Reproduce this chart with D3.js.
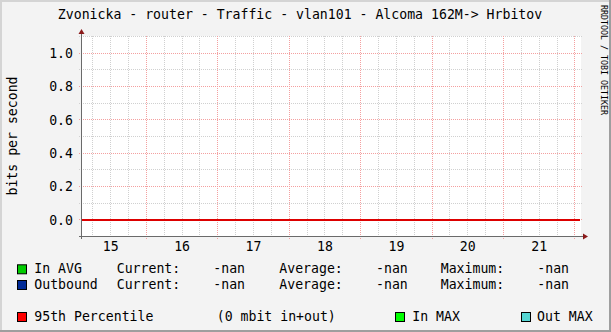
<!DOCTYPE html>
<html><head><meta charset="utf-8">
<script src="https://cdn.jsdelivr.net/npm/d3@7"></script>
<style>
html,body{margin:0;padding:0;background:#F3F3F3;}
svg{display:block;}
text{font-family:"DejaVu Sans Mono",monospace;fill:#000;}
</style></head><body>
<script>
// ---- data ----
const title = "Zvonicka - router - Traffic - vlan101 - Alcoma 162M-> Hrbitov";
const yLabel = "bits per second";
const yTicks = [0.0, 0.2, 0.4, 0.6, 0.8, 1.0];
const yMinor = [-0.1, 0.1, 0.3, 0.5, 0.7, 0.9, 1.1];
const dayLabels = ["15", "16", "17", "18", "19", "20", "21"];
const hoursDomain = [-21.8, 146.2];          // hours relative to midnight starting day 15
const dayStarts = [0, 24, 48, 72, 96, 120, 144];
const inAvg = [];      // no data (nan)
const outbound = [];   // no data (nan)
const percentile95 = 0;
const legendRows = [
  {name: "In AVG",   color: "#00CC00", current: "-nan", average: "-nan", maximum: "-nan"},
  {name: "Outbound", color: "#002A97", current: "-nan", average: "-nan", maximum: "-nan"}
];
const legendExtra = [
  {name: "95th Percentile", color: "#FF0000"},
  {name: "In MAX", color: "#00FF00"},
  {name: "Out MAX", color: "#55D6D3"}
];
const percentileText = "(0 mbit in+out)";

// ---- layout ----
const W = 611, H = 332;
const L = 81, R = 581, T = 36, B = 236;
const svg = d3.select("body").append("svg").attr("width", W).attr("height", H);
svg.append("rect").attr("width", W).attr("height", H).attr("fill", "#F3F3F3");
// 3D border
svg.append("rect").attr("x",0).attr("y",0).attr("width",W).attr("height",2).attr("fill","#D4D4D4");
svg.append("rect").attr("x",0).attr("y",0).attr("width",2).attr("height",H).attr("fill","#D4D4D4");
svg.append("rect").attr("x",W-2).attr("y",0).attr("width",2).attr("height",H).attr("fill","#9E9E9E");
svg.append("rect").attr("x",0).attr("y",H-2).attr("width",W).attr("height",2).attr("fill","#9E9E9E");

const x = d3.scaleLinear().domain(hoursDomain).range([L, R]);
const y = d3.scaleLinear().domain([-0.1, 1.1]).range([B, T]);

svg.append("rect").attr("x", L).attr("y", T).attr("width", R - L).attr("height", B - T).attr("fill", "#FFFFFF");

// minor vertical grid (every 6h)
const minorX = d3.range(-18, 147, 6).filter(h => h % 24 !== 0);
const g = svg.append("g").attr("shape-rendering", "crispEdges");
g.selectAll(".vmin").data(minorX).enter().append("line")
  .attr("x1", d => Math.round(x(d)) + 0.5).attr("x2", d => Math.round(x(d)) + 0.5)
  .attr("y1", T).attr("y2", B + 2)
  .attr("stroke", "#D0D0D0").attr("stroke-dasharray", "1,1");
// minor horizontal grid
g.selectAll(".hmin").data(yMinor).enter().append("line")
  .attr("x1", L - 2).attr("x2", R + 2)
  .attr("y1", d => Math.round(y(d)) + 0.5).attr("y2", d => Math.round(y(d)) + 0.5)
  .attr("stroke", "#D0D0D0").attr("stroke-dasharray", "1,1");
// major vertical grid
g.selectAll(".vmaj").data(dayStarts).enter().append("line")
  .attr("x1", d => Math.round(x(d)) + 0.5).attr("x2", d => Math.round(x(d)) + 0.5)
  .attr("y1", T).attr("y2", B + 3)
  .attr("stroke", "#F4A0A0").attr("stroke-dasharray", "1,1");
// major horizontal grid
g.selectAll(".hmaj").data(yTicks).enter().append("line")
  .attr("x1", L - 2).attr("x2", R + 2)
  .attr("y1", d => Math.round(y(d)) + 0.5).attr("y2", d => Math.round(y(d)) + 0.5)
  .attr("stroke", "#F4A0A0").attr("stroke-dasharray", "1,1");

// data lines (empty) and 95th percentile line
const line = d3.line().x(d => x(d[0])).y(d => y(d[1]));
svg.append("path").datum(inAvg).attr("d", line).attr("fill", "none").attr("stroke", "#00CC00");
svg.append("path").datum(outbound).attr("d", line).attr("fill", "none").attr("stroke", "#002A97");
svg.append("line").attr("x1", L + 1).attr("x2", R - 1)
  .attr("y1", Math.round(y(percentile95)) + 0.5).attr("y2", Math.round(y(percentile95)) + 0.5)
  .attr("stroke", "#DD0000").attr("stroke-width", 2).attr("shape-rendering", "crispEdges");

// axes lines
const ag = svg.append("g").attr("shape-rendering", "crispEdges");
ag.append("line").attr("x1", L - 2).attr("x2", R + 3).attr("y1", B + 0.5).attr("y2", B + 0.5).attr("stroke", "#6A6A6A");
ag.append("line").attr("x1", L + 0.5).attr("x2", L + 0.5).attr("y1", T - 3).attr("y2", B + 3).attr("stroke", "#6A6A6A");
svg.append("path").attr("d", `M${L - 2.5},${T - 2} L${L + 3.5},${T - 2} L${L + 0.5},${T - 7} Z`).attr("fill", "#8B1A1A");
svg.append("path").attr("d", `M${R + 2},${B - 2.5} L${R + 2},${B + 3.5} L${R + 7},${B + 0.5} Z`).attr("fill", "#8B1A1A");

// axis labels via d3 axes
const yAxis = d3.axisLeft(y).tickValues(yTicks).tickFormat(d3.format(".1f")).tickSize(0).tickPadding(8);
const ya = svg.append("g").attr("transform", `translate(${L},0)`).call(yAxis);
ya.select(".domain").remove();
ya.selectAll("text").attr("font-family", "DejaVu Sans Mono").attr("font-size", 13.2).attr("fill", "#000").attr("dy", "0.36em");

const xAxis = d3.axisBottom(x).tickValues(dayStarts.map(d => d - 12)).tickFormat((d, i) => dayLabels[i]).tickSize(0).tickPadding(6);
const xa = svg.append("g").attr("transform", `translate(0,${B})`).call(xAxis);
xa.select(".domain").remove();
xa.selectAll("text").attr("font-family", "DejaVu Sans Mono").attr("font-size", 13.2).attr("fill", "#000").attr("dy", "0.71em");

// title
svg.append("text").attr("x", 300).attr("y", 19).attr("text-anchor", "middle").attr("font-size", 13.2).text(title);
// y label
svg.append("text").attr("transform", "translate(16.5,136) rotate(-90)").attr("text-anchor", "middle").attr("font-size", 13.2).text(yLabel);
// watermark
svg.append("text").attr("transform", "translate(600.5,5) rotate(90)").attr("font-size", 8.5).attr("fill", "#B4B4B4")
  .attr("textLength", 110).attr("lengthAdjust", "spacingAndGlyphs").text("RRDTOOL / TOBI OETIKER");

// legend
const fs = 13.2;
const rowY = [273.3, 289];
legendRows.forEach((r, i) => {
  const by = rowY[i];
  svg.append("rect").attr("x", 17.5).attr("y", by - 8.5).attr("width", 9).attr("height", 9).attr("fill", r.color).attr("stroke", "#000").attr("stroke-width", 1);
  const cols = [[34.3, r.name], [116.7, "Current:"], [213.3, r.current], [279.3, "Average:"], [376, r.average], [440.7, "Maximum:"], [537.3, r.maximum]];
  cols.forEach(([cx, t]) => svg.append("text").attr("x", cx).attr("y", by).attr("font-size", fs).text(t));
});
const by3 = 321;
const extraPos = [[17.5, 34.3], [395.5, 412.3], [521.5, 537]];
legendExtra.forEach((e, i) => {
  svg.append("rect").attr("x", extraPos[i][0]).attr("y", by3 - 8.5).attr("width", 9).attr("height", 9).attr("fill", e.color).attr("stroke", "#000").attr("stroke-width", 1);
  svg.append("text").attr("x", extraPos[i][1]).attr("y", by3).attr("font-size", fs).text(e.name);
});
svg.append("text").attr("x", 216.7).attr("y", by3).attr("font-size", fs).text(percentileText);
</script>
</body></html>
